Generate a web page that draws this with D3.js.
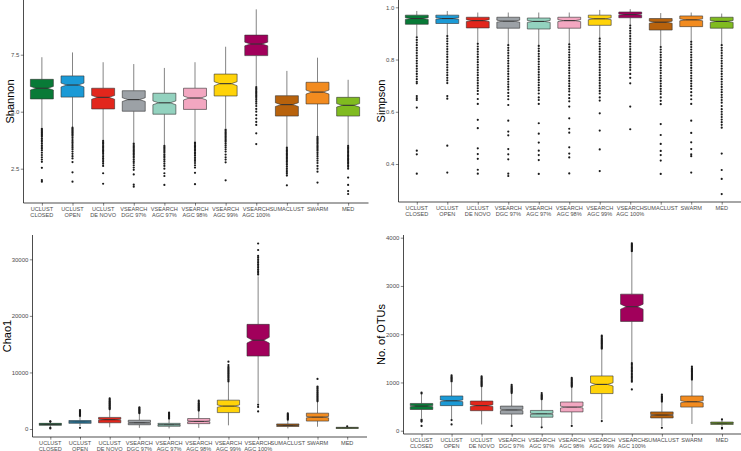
<!DOCTYPE html>
<html><head><meta charset="utf-8">
<script src="https://cdn.jsdelivr.net/npm/d3@7"></script>
<style>
body{margin:0;background:#fff}
svg{display:block}
text{font-family:"Liberation Sans",Arial,Helvetica,sans-serif}
</style>
</head><body>
<svg id="chart" width="741" height="451"></svg>
<script>
// ---------------- DATA ----------------
const categories = ["UCLUST\nCLOSED","UCLUST\nOPEN","UCLUST\nDE NOVO","VSEARCH\nDGC 97%","VSEARCH\nAGC 97%","VSEARCH\nAGC 98%","VSEARCH\nAGC 99%","VSEARCH\nAGC 100%","SUMACLUST","SWARM","MED"];
const fillColors = ["#087a37","#1b9ad6","#e2261c","#9ca1a6","#93d2bf","#f3a7c1","#ffd309","#a1005b","#b8620c","#f28b1f","#80bb20"];
const sampleSize = 300; // samples per method (for notch)

// Shannon
const shannonLow    = [4.29,4.32,3.76,3.64,3.54,3.68,4.27,6.13,3.46,3.93,3.54];
const shannonQ1     = [5.56,5.64,5.12,5.02,4.89,5.10,5.69,7.46,4.81,5.34,4.81];
const shannonMedian = [6.03,6.17,5.63,5.53,5.39,5.60,6.23,7.97,5.31,5.86,5.28];
const shannonQ3     = [6.42,6.57,6.03,5.92,5.81,6.03,6.65,8.36,5.70,6.29,5.63];
const shannonHigh   = [7.39,7.60,7.17,7.09,6.92,7.17,7.85,9.49,6.79,7.37,6.40];
const shannonOutliers = [
  [4.25,4.2,4.15,4.1,4.05,4.0,3.95,3.9,3.82,3.75,3.68,3.6,3.52,3.45,3.38,3.3,3.2,3.1,3.0,2.9,2.8,2.54,2.0,1.93],
  [4.3,4.25,4.2,4.15,4.1,4.05,4.0,3.95,3.88,3.8,3.72,3.65,3.58,3.5,3.42,3.35,3.25,3.15,3.05,2.95,2.79,2.34,1.93],
  [3.72,3.66,3.6,3.54,3.48,3.42,3.36,3.3,3.24,3.18,3.1,3.02,2.95,2.88,2.8,2.72,2.62,2.3,1.84],
  [3.6,3.54,3.48,3.42,3.36,3.3,3.24,3.18,3.12,3.05,2.98,2.9,2.82,2.75,2.65,2.55,2.45,2.25,1.8,1.71],
  [3.5,3.44,3.38,3.32,3.26,3.2,3.12,3.05,2.98,2.9,2.82,2.72,2.62,2.5,2.3,2.18,1.79],
  [3.65,3.59,3.53,3.47,3.41,3.35,3.29,3.22,3.15,3.08,3.0,2.92,2.84,2.75,2.65,2.55,2.32,1.82],
  [4.22,4.16,4.1,4.04,3.98,3.92,3.86,3.8,3.74,3.68,3.6,3.52,3.44,3.35,3.25,3.12,3.0,2.9,2.78,1.99],
  [6.08,6.02,5.96,5.9,5.84,5.78,5.72,5.66,5.6,5.52,5.44,5.35,5.25,5.12,5.0,4.85,4.7,4.55,4.42,4.05,3.58],
  [3.42,3.36,3.3,3.24,3.18,3.12,3.06,3.0,2.94,2.88,2.82,2.75,2.68,2.6,2.52,2.44,2.36,2.28,2.2,1.77],
  [3.9,3.84,3.78,3.72,3.66,3.6,3.54,3.48,3.42,3.36,3.3,3.22,3.14,3.05,2.95,2.85,2.75,2.62,2.5,2.37,1.89],
  [3.5,3.44,3.38,3.32,3.26,3.2,3.14,3.08,3.02,2.96,2.9,2.84,2.78,2.72,2.65,2.58,2.5,2.11,1.79,1.52,1.39]
];
const shannonTicks = [2.5,5.0,7.5];

// Simpson
const simpsonLow    = [0.888,0.892,0.862,0.856,0.853,0.860,0.882,0.933,0.849,0.869,0.857];
const simpsonQ1     = [0.935,0.938,0.921,0.920,0.917,0.920,0.931,0.960,0.913,0.926,0.920];
const simpsonMedian = [0.957,0.957,0.949,0.947,0.946,0.949,0.956,0.972,0.943,0.952,0.946];
const simpsonQ3     = [0.970,0.970,0.962,0.962,0.959,0.962,0.970,0.982,0.957,0.967,0.962];
const simpsonHigh   = [0.986,0.986,0.980,0.980,0.980,0.980,0.990,0.993,0.978,0.980,0.976];
const simpsonOutliers = [
  [0.885,0.875,0.865,0.855,0.845,0.835,0.825,0.815,0.805,0.795,0.785,0.775,0.765,0.755,0.745,0.735,0.725,0.715,0.709,0.66,0.652,0.645,0.616,0.451,0.437,0.363],
  [0.89,0.88,0.87,0.86,0.85,0.84,0.83,0.82,0.81,0.8,0.79,0.78,0.77,0.76,0.75,0.74,0.73,0.72,0.71,0.66,0.65,0.47,0.367],
  [0.86,0.85,0.84,0.83,0.82,0.81,0.8,0.79,0.78,0.77,0.76,0.75,0.74,0.73,0.72,0.71,0.7,0.69,0.68,0.668,0.649,0.63,0.569,0.537,0.46,0.438,0.42,0.378,0.363],
  [0.855,0.845,0.835,0.825,0.815,0.805,0.795,0.785,0.775,0.765,0.755,0.745,0.735,0.725,0.715,0.705,0.695,0.685,0.672,0.66,0.648,0.626,0.566,0.524,0.51,0.457,0.437,0.418,0.363,0.354],
  [0.852,0.842,0.832,0.822,0.812,0.802,0.792,0.782,0.772,0.762,0.752,0.742,0.732,0.722,0.712,0.702,0.692,0.682,0.67,0.655,0.645,0.63,0.556,0.516,0.482,0.451,0.434,0.415,0.362],
  [0.858,0.848,0.838,0.828,0.818,0.808,0.798,0.788,0.778,0.768,0.758,0.748,0.738,0.728,0.718,0.708,0.698,0.688,0.678,0.665,0.652,0.64,0.62,0.575,0.535,0.52,0.464,0.44,0.425,0.364],
  [0.88,0.87,0.86,0.85,0.84,0.83,0.82,0.81,0.8,0.79,0.78,0.77,0.76,0.75,0.74,0.73,0.72,0.71,0.7,0.69,0.68,0.67,0.655,0.643,0.594,0.528,0.456,0.373],
  [0.93,0.92,0.91,0.9,0.89,0.88,0.87,0.86,0.85,0.84,0.83,0.82,0.81,0.8,0.79,0.78,0.77,0.76,0.745,0.73,0.709,0.62,0.533],
  [0.848,0.838,0.828,0.818,0.808,0.798,0.788,0.778,0.768,0.758,0.748,0.738,0.728,0.718,0.708,0.698,0.688,0.678,0.668,0.655,0.642,0.629,0.553,0.511,0.477,0.45,0.434,0.413,0.362],
  [0.868,0.858,0.848,0.838,0.828,0.818,0.808,0.798,0.788,0.778,0.768,0.758,0.748,0.738,0.728,0.718,0.708,0.698,0.688,0.675,0.662,0.648,0.63,0.566,0.519,0.483,0.457,0.437,0.43,0.367],
  [0.855,0.845,0.835,0.825,0.815,0.805,0.795,0.785,0.775,0.765,0.755,0.745,0.735,0.725,0.715,0.705,0.695,0.685,0.675,0.665,0.655,0.645,0.635,0.622,0.61,0.6,0.59,0.58,0.57,0.56,0.55,0.539,0.44,0.377,0.343,0.285]
];
const simpsonTicks = [0.4,0.6,0.8,1.0];

// Chao1
const chaoLow    = [350,500,300,200,100,200,650,4600,100,400,30];
const chaoQ1     = [650,1000,1100,750,480,950,2900,12900,450,1400,100];
const chaoMedian = [820,1250,1650,1100,750,1350,4050,15700,650,2100,200];
const chaoQ3     = [1000,1500,2050,1550,1000,1850,5100,18500,900,2800,300];
const chaoHigh   = [1250,2200,3400,2700,1750,3150,8300,27000,1550,4800,400];
const chaoOutliers = [
  [1300,1350,200,100],
  [2300,2450,2600,2750,2900,3050,3200,3350,200],
  [3500,3650,3800,3950,4100,4250,4400,4550,4700,4850,5000,5200,5400],
  [2800,2950,3100,3250,3400,3550,3700,3850],
  [1850,2000,2150,2300,2450,2600,2750,2900],
  [3250,3400,3550,3700,3850,4000,4150,4300,4450,4600,4800,5000],
  [8400,8600,8800,9000,9200,9400,9600,9800,10000,10200,10400,10600,10800,11000,11300,11900],
  [27300,27600,27900,28200,28500,28800,29100,29400,29700,30000,30300,30600,31650,32800,4300,3900,3100],
  [1650,1800,1950,2100,2250,2400,2550,2750],
  [4900,5100,5300,5500,5700,5900,6100,6300,6500,6700,6900,7100,7300,7500,8850],
  [480]
];
const chaoTicks = [0,10000,20000,30000];

// No. of OTUs
const otuLow    = [260,240,130,120,90,130,230,1420,90,140,90];
const otuQ1     = [440,520,415,345,280,390,770,2265,265,490,130];
const otuMedian = [510,620,520,430,350,490,960,2570,325,600,155];
const otuQ3     = [565,720,615,510,420,595,1135,2830,390,720,180];
const otuHigh   = [750,1000,900,760,630,900,1680,3700,580,1050,230];
const otuOutliers = [
  [770,790,230,210,190,100],
  [1020,1040,1060,1080,1100,1120,1150,220,130],
  [920,940,960,980,1000,1020,1040,1060,1080,1100,1125],
  [780,800,820,840,860,880,900,920,950,100],
  [650,670,690,710,730,750,780,70],
  [910,930,950,970,990,1010,1030,1050,1070,1095,100],
  [1700,1720,1740,1760,1780,1800,1820,1840,1860,1880,1900,1920,1945,1970,200],
  [3720,3740,3760,3780,3800,3820,3840,3860,3885,1400,1370,1340,1310,1280,1250,1220,1190,1160,1130,1100,1070,1040,1015,855],
  [600,620,640,660,680,700,720,750,60],
  [1060,1080,1100,1120,1140,1160,1180,1200,1220,1240,1260,1280,1300,1330],
  [235,60,45]
];
const otuTicks = [0,1000,2000,3000,4000];

// ---------------- LAYOUT ----------------
const panels = [
  {title:"Shannon", low:shannonLow,q1:shannonQ1,med:shannonMedian,q3:shannonQ3,high:shannonHigh,out:shannonOutliers,ticks:shannonTicks,fmt:d3.format(".1f"),
   domain:[0.995,9.9], l:23.5, r:366.5, t:0, b:203, titleX:10},
  {title:"Simpson", low:simpsonLow,q1:simpsonQ1,med:simpsonMedian,q3:simpsonQ3,high:simpsonHigh,out:simpsonOutliers,ticks:simpsonTicks,fmt:d3.format(".1f"),
   domain:[0.2545,1.028], l:398.5, r:740, t:0, b:202, titleX:381},
  {title:"Chao1", low:chaoLow,q1:chaoQ1,med:chaoMedian,q3:chaoQ3,high:chaoHigh,out:chaoOutliers,ticks:chaoTicks,fmt:d3.format("d"),
   domain:[-1414,34300], l:32.5, r:365, t:235, b:437, titleX:7},
  {title:"No. of OTUs", low:otuLow,q1:otuQ1,med:otuMedian,q3:otuQ3,high:otuHigh,out:otuOutliers,ticks:otuTicks,fmt:d3.format("d"),
   domain:[-68,4056], l:403.5, r:740, t:235, b:434, titleX:381}
];

const svg = d3.select("#chart");
const ink = "#333333";

panels.forEach(p => {
  const g = svg.append("g");
  const x = d3.scalePoint().domain(categories).range([p.l, p.r]).padding(0.6);
  const y = d3.scaleLinear().domain(p.domain).range([p.b, p.t]);
  const bw = x.step() * 0.75;

  categories.forEach((c, i) => {
    const cx = x(c);
    const q1 = p.q1[i], q3 = p.q3[i], md = p.med[i];
    const notch = 1.58 * (q3 - q1) / Math.sqrt(sampleSize);
    const gb = g.append("g");
    gb.append("line").attr("x1",cx).attr("x2",cx).attr("y1",y(q3)).attr("y2",y(p.high[i]))
      .attr("stroke",ink).attr("stroke-width",0.6);
    gb.append("line").attr("x1",cx).attr("x2",cx).attr("y1",y(q1)).attr("y2",y(p.low[i]))
      .attr("stroke",ink).attr("stroke-width",0.6);
    gb.selectAll("circle").data(p.out[i]).join("circle")
      .attr("cx",cx).attr("cy",d=>y(d)).attr("r",1.1).attr("fill","#1a1a1a");
    const L = cx - bw/2, R = cx + bw/2, iL = cx - bw/4, iR = cx + bw/4;
    const nT = Math.min(md + notch, q3), nB = Math.max(md - notch, q1);
    const path = d3.path();
    path.moveTo(L, y(q3)); path.lineTo(R, y(q3)); path.lineTo(R, y(nT)); path.lineTo(iR, y(md));
    path.lineTo(R, y(nB)); path.lineTo(R, y(q1)); path.lineTo(L, y(q1)); path.lineTo(L, y(nB));
    path.lineTo(iL, y(md)); path.lineTo(L, y(nT)); path.closePath();
    gb.append("path").attr("d", path.toString()).attr("fill", fillColors[i])
      .attr("stroke", ink).attr("stroke-width",0.6).attr("stroke-linejoin","miter");
    gb.append("line").attr("x1",iL).attr("x2",iR).attr("y1",y(md)).attr("y2",y(md))
      .attr("stroke",ink).attr("stroke-width",1.1);
  });

  const ya = g.append("g").attr("transform",`translate(${p.l},0)`)
    .call(d3.axisLeft(y).tickValues(p.ticks).tickFormat(p.fmt).tickSize(2.7).tickSizeOuter(0).tickPadding(1.5));
  ya.select(".domain").remove();
  ya.selectAll(".tick line").attr("stroke",ink).attr("stroke-width",0.6);
  ya.selectAll(".tick text").attr("fill","#4d4d4d").style("font-size","6px");
  g.append("line").attr("x1",p.l).attr("x2",p.l).attr("y1",p.t).attr("y2",p.b)
    .attr("stroke","#000").attr("stroke-width",0.7);

  const xa = g.append("g").attr("transform",`translate(0,${p.b})`)
    .call(d3.axisBottom(x).tickSize(2.7).tickSizeOuter(0).tickFormat(""));
  xa.select(".domain").remove();
  xa.selectAll(".tick line").attr("stroke",ink).attr("stroke-width",0.6);
  g.append("line").attr("x1",p.l).attr("x2",p.r + 2).attr("y1",p.b).attr("y2",p.b)
    .attr("stroke","#000").attr("stroke-width",0.7);
  categories.forEach(c => {
    const lines = c.split("\n");
    const t = g.append("text").attr("text-anchor","middle").attr("fill","#4d4d4d")
      .style("font-size","5.6px");
    lines.forEach((ln, k) => {
      t.append("tspan").attr("x", x(c)).attr("y", p.b + 7.5 + k*6).text(ln);
    });
  });

  g.append("text").attr("transform",`translate(${p.titleX},${(p.t+p.b)/2}) rotate(-90)`)
    .attr("text-anchor","middle").attr("dy","0.35em").style("font-size","11px").attr("fill","#000")
    .text(p.title);
});
</script>
</body></html>
